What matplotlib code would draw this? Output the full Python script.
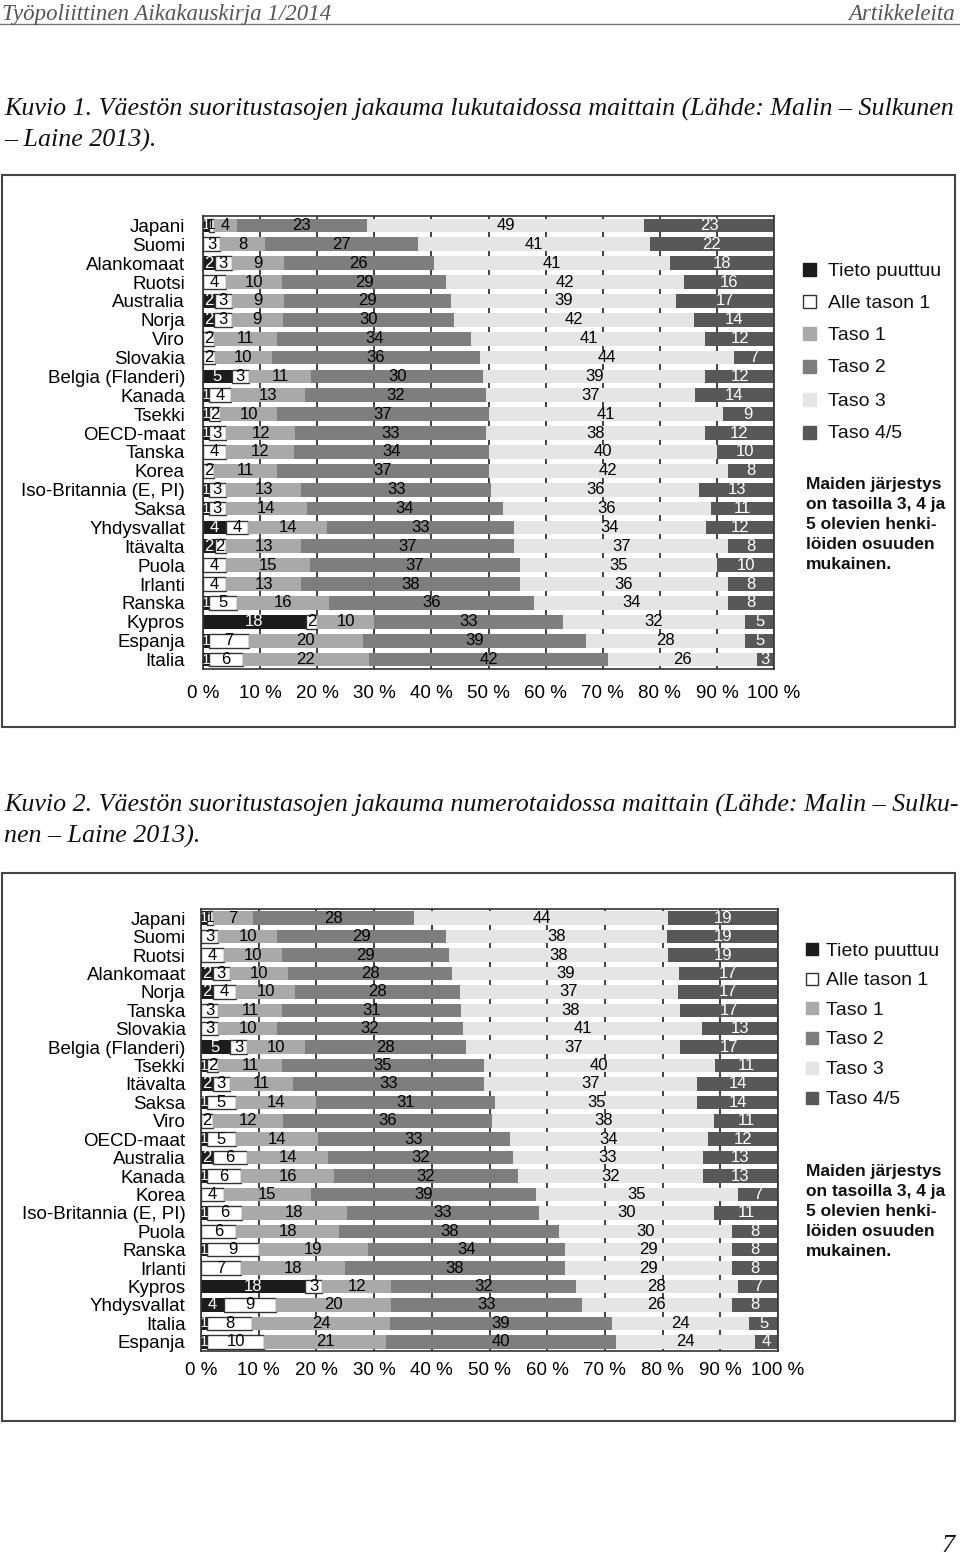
import matplotlib
matplotlib.use("Agg")
import matplotlib.pyplot as plt
from matplotlib.patches import Rectangle
from matplotlib.lines import Line2D

W, H = 960, 1559
SANS = ["Liberation Sans", "DejaVu Sans"]
SERIF = ["Liberation Serif", "DejaVu Serif"]

series = ["Tieto puuttuu", "Alle tason 1", "Taso 1", "Taso 2", "Taso 3", "Taso 4/5"]
colors = ["#1c1c1c", "#ffffff", "#a9a9a9", "#7e7e7e", "#e5e5e5", "#585858"]
text_colors = ["white", "black", "black", "black", "black", "white"]

# Kuvio 1 (lukutaito)
countries1 = ["Japani", "Suomi", "Alankomaat", "Ruotsi", "Australia", "Norja", "Viro",
              "Slovakia", "Belgia (Flanderi)", "Kanada", "Tsekki", "OECD-maat", "Tanska",
              "Korea", "Iso-Britannia (E, PI)", "Saksa", "Yhdysvallat", "Itävalta", "Puola",
              "Irlanti", "Ranska", "Kypros", "Espanja", "Italia"]
missing1 = [1, 0, 2, 0, 2, 2, 0, 0, 5, 1, 1, 1, 0, 0, 1, 1, 4, 2, 0, 0, 1, 18, 1, 1]
below1_1 = [1, 3, 3, 4, 3, 3, 2, 2, 3, 4, 2, 3, 4, 2, 3, 3, 4, 2, 4, 4, 5, 2, 7, 6]
taso1_1 = [4, 8, 9, 10, 9, 9, 11, 10, 11, 13, 10, 12, 12, 11, 13, 14, 14, 13, 15, 13, 16, 10, 20, 22]
taso2_1 = [23, 27, 26, 29, 29, 30, 34, 36, 30, 32, 37, 33, 34, 37, 33, 34, 33, 37, 37, 38, 36, 33, 39, 42]
taso3_1 = [49, 41, 41, 42, 39, 42, 41, 44, 39, 37, 41, 38, 40, 42, 36, 36, 34, 37, 35, 36, 34, 32, 28, 26]
taso45_1 = [23, 22, 18, 16, 17, 14, 12, 7, 12, 14, 9, 12, 10, 8, 13, 11, 12, 8, 10, 8, 8, 5, 5, 3]

# Kuvio 2 (numerotaito)
countries2 = ["Japani", "Suomi", "Ruotsi", "Alankomaat", "Norja", "Tanska", "Slovakia",
              "Belgia (Flanderi)", "Tsekki", "Itävalta", "Saksa", "Viro", "OECD-maat",
              "Australia", "Kanada", "Korea", "Iso-Britannia (E, PI)", "Puola", "Ranska",
              "Irlanti", "Kypros", "Yhdysvallat", "Italia", "Espanja"]
missing2 = [1, 0, 0, 2, 2, 0, 0, 5, 1, 2, 1, 0, 1, 2, 1, 0, 1, 0, 1, 0, 18, 4, 1, 1]
below1_2 = [1, 3, 4, 3, 4, 3, 3, 3, 2, 3, 5, 2, 5, 6, 6, 4, 6, 6, 9, 7, 3, 9, 8, 10]
taso1_2 = [7, 10, 10, 10, 10, 11, 10, 10, 11, 11, 14, 12, 14, 14, 16, 15, 18, 18, 19, 18, 12, 20, 24, 21]
taso2_2 = [28, 29, 29, 28, 28, 31, 32, 28, 35, 33, 31, 36, 33, 32, 32, 39, 33, 38, 34, 38, 32, 33, 39, 40]
taso3_2 = [44, 38, 38, 39, 37, 38, 41, 37, 40, 37, 35, 38, 34, 33, 32, 35, 30, 30, 29, 29, 28, 26, 24, 24]
taso45_2 = [19, 19, 19, 17, 17, 17, 13, 17, 11, 14, 14, 11, 12, 13, 13, 7, 11, 8, 8, 8, 7, 8, 5, 4]

xticks = [0, 10, 20, 30, 40, 50, 60, 70, 80, 90, 100]
xticklabels = [f"{t} %" for t in xticks]

fig = plt.figure(figsize=(W / 100, H / 100), dpi=100)
fig.patch.set_facecolor("white")


def fy(y):
    return 1 - y / H


def fx(x):
    return x / W


def draw_chart(ax, countries, data, ypad, xpad):
    n = len(countries)
    ys = list(range(n))
    # rounded shares do not always sum to 100 -> scale each row to full width
    totals = [sum(col[i] for col in data) for i in range(n)]
    lefts = [0.0] * n
    for si, vals in enumerate(data):
        widths = [v * 100.0 / t for v, t in zip(vals, totals)]
        ax.barh(ys, widths, left=lefts, height=0.73, color=colors[si],
                edgecolor="#333333" if si == 1 else "none",
                linewidth=1.0 if si == 1 else 0, zorder=3)
        for i, v in enumerate(vals):
            if v > 0:
                ax.text(lefts[i] + widths[i] / 2, i, str(v), ha="center", va="center",
                        fontsize=11 if v == 1 else 12, color=text_colors[si],
                        family=SANS, zorder=5)
        lefts = [l + w for l, w in zip(lefts, widths)]
    ax.set_xlim(0, 100)
    ax.set_ylim(n - 0.5, -0.5)
    ax.set_yticks(ys)
    ax.set_yticklabels(countries, fontsize=13.5, family=SANS)
    ax.set_xticks(xticks)
    ax.set_xticklabels(xticklabels, fontsize=13.5, family=SANS)
    ax.tick_params(axis="y", length=0, pad=ypad)
    ax.tick_params(axis="x", length=0, pad=xpad)
    ax.grid(axis="x", color="#333333", linewidth=1.3, zorder=1)
    ax.grid(axis="y", visible=False)
    ax.set_axisbelow(True)
    for s in ax.spines.values():
        s.set_color("#333333")
        s.set_linewidth(1.2)
        s.set_zorder(6)


def legend_and_note(xsq, xtxt, ys_leg, sq, note_x, note_y0):
    for si, yy in enumerate(ys_leg):
        fig.patches.append(Rectangle((fx(xsq), fy(yy + sq / 2)), sq / W, sq / H,
                                     transform=fig.transFigure, facecolor=colors[si],
                                     edgecolor="#333333" if si == 1 else colors[si],
                                     linewidth=1.0))
        fig.text(fx(xtxt), fy(yy), series[si], fontsize=14, family=SANS,
                 ha="left", va="center_baseline", color="#111111")
    note = ["Maiden järjestys", "on tasoilla 3, 4 ja", "5 olevien henki-",
            "löiden osuuden", "mukainen."]
    for k, line in enumerate(note):
        fig.text(fx(note_x), fy(note_y0 + 20 * k), line, fontsize=12.5, family=SANS,
                 weight="bold", ha="left", va="center_baseline", color="#111111")


# header
fig.text(fx(2), fy(12), "Työpoliittinen Aikakauskirja 1/2014", family=SERIF, style="italic",
         fontsize=16.5, color="#555555", ha="left", va="center_baseline")
fig.text(fx(955), fy(12), "Artikkeleita", family=SERIF, style="italic",
         fontsize=16.5, color="#555555", ha="right", va="center_baseline")
fig.lines.append(Line2D([0, 1], [fy(24), fy(24)], transform=fig.transFigure,
                        color="#777777", linewidth=1.0))

# captions
fig.text(fx(4), fy(107), "Kuvio 1. Väestön suoritustasojen jakauma lukutaidossa maittain (Lähde: Malin – Sulkunen",
         family=SERIF, style="italic", fontsize=18.7, color="#111111", ha="left", va="center_baseline")
fig.text(fx(4), fy(138), "– Laine 2013).", family=SERIF, style="italic", fontsize=18.7,
         color="#111111", ha="left", va="center_baseline")
fig.text(fx(4), fy(803), "Kuvio 2. Väestön suoritustasojen jakauma numerotaidossa maittain (Lähde: Malin – Sulku-",
         family=SERIF, style="italic", fontsize=18.7, color="#111111", ha="left", va="center_baseline")
fig.text(fx(4), fy(834), "nen – Laine 2013).", family=SERIF, style="italic", fontsize=18.7,
         color="#111111", ha="left", va="center_baseline")

# frames
for top, bot in [(175, 727), (873, 1421)]:
    fig.patches.append(Rectangle((fx(2), fy(bot)), (955 - 2) / W, (bot - top) / H,
                                 transform=fig.transFigure, facecolor="none",
                                 edgecolor="#444444", linewidth=1.5))

ax1 = fig.add_axes([fx(203), fy(669), (774 - 203) / W, (669 - 216) / H])
draw_chart(ax1, countries1, [missing1, below1_1, taso1_1, taso2_1, taso3_1, taso45_1], 13, 11.5)
legend_and_note(803, 828, [269, 301, 333, 366, 399, 432], 13, 806, 483)

ax2 = fig.add_axes([fx(201), fy(1351), (778 - 201) / W, (1351 - 909) / H])
draw_chart(ax2, countries2, [missing2, below1_2, taso1_2, taso2_2, taso3_2, taso45_2], 11, 8)
legend_and_note(806, 826, [949, 979, 1008, 1038, 1068, 1098], 12, 806, 1170)

# page number
fig.text(fx(955), fy(1544), "7", family=SERIF, style="italic", fontsize=19,
         color="#111111", ha="right", va="center_baseline")

fig.savefig("out.png", dpi=100, facecolor="white")
